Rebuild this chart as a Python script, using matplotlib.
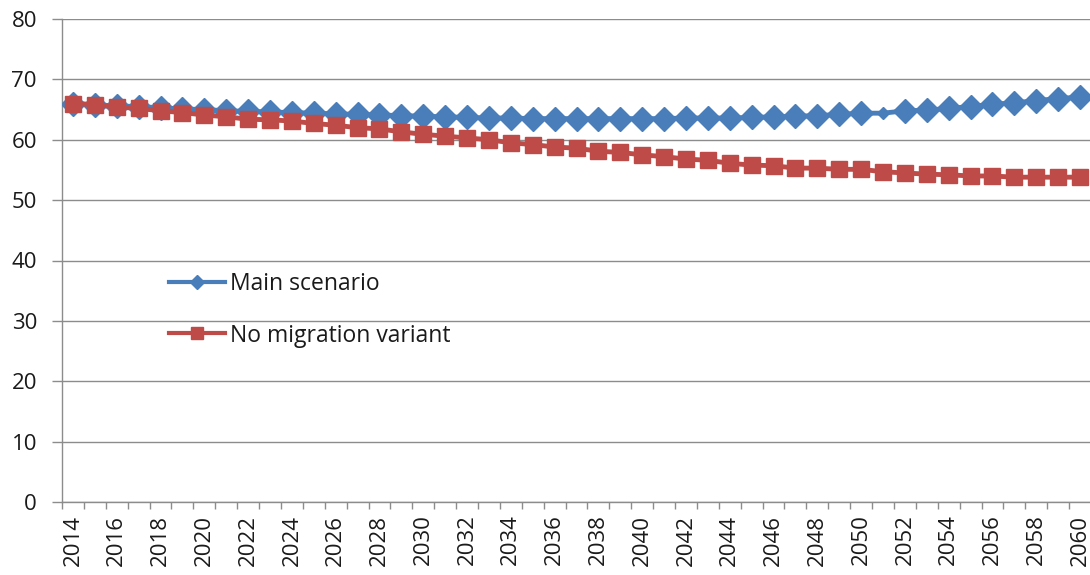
import matplotlib
matplotlib.use("Agg")
import matplotlib.pyplot as plt
from matplotlib.lines import Line2D
import numpy as np

years = list(range(2014, 2061))
main_scenario = [66.0, 65.8, 65.6, 65.5, 65.3, 65.1, 65.0, 64.8, 64.7, 64.6,
                 64.5, 64.4, 64.3, 64.2, 64.1, 64.0, 63.9, 63.8, 63.7, 63.6,
                 63.6, 63.5, 63.5, 63.5, 63.5, 63.5, 63.5, 63.5, 63.6, 63.6,
                 63.6, 63.7, 63.8, 63.9, 64.0, 64.2, 64.4, 64.4, 64.8, 64.9,
                 65.2, 65.5, 65.9, 66.1, 66.5, 66.8, 67.1]
no_migration = [66.0, 65.8, 65.4, 65.2, 64.8, 64.5, 64.1, 63.8, 63.4, 63.3,
                63.1, 62.7, 62.4, 62.0, 61.8, 61.3, 60.9, 60.6, 60.3, 60.0,
                59.5, 59.2, 58.8, 58.6, 58.1, 57.9, 57.5, 57.2, 56.8, 56.6,
                56.1, 55.8, 55.7, 55.3, 55.3, 55.1, 55.1, 54.7, 54.5, 54.3,
                54.2, 54.0, 54.0, 53.8, 53.8, 53.8, 53.8]
series_labels = ["Main scenario", "No migration variant"]
y_ticks = [0, 10, 20, 30, 40, 50, 60, 70, 80]

plt.rcParams['font.family'] = ['Open Sans', 'DejaVu Sans']

BLUE = '#4A7EBB'
RED = '#BE4B48'
FS = 16

fig = plt.figure(figsize=(10.9, 5.75), dpi=100)
ax = fig.add_axes([62/1090, 73/575, 1029/1090, 483/575])

x = np.arange(len(years))
small_idx = years.index(2051)
normal = [i for i in x if i != small_idx]
ax.plot(x, main_scenario, color=BLUE, lw=3.5, marker='D', ms=12,
        markevery=normal, mec=BLUE, mfc=BLUE, zorder=3)
ax.plot([x[small_idx]], [main_scenario[small_idx]], ls='none', marker='D', ms=6.5,
        color=BLUE, zorder=3)
ax.plot(x, no_migration, color=RED, lw=3.5, marker='s', ms=11,
        mec=RED, mfc=RED, zorder=4)

ax.set_xlim(-0.5, len(years) - 0.5)
ax.set_ylim(0, 80)
ax.set_yticks(y_ticks)
ax.set_xticks(x[::2])
ax.set_xticklabels([str(y) for y in years[::2]], rotation=90, fontsize=FS)
ax.set_xticks(np.arange(len(years) + 1) - 0.5, minor=True)
ax.tick_params(axis='x', which='major', length=0, pad=9, labelcolor='#1a1a1a')
ax.tick_params(axis='x', which='minor', length=5, color='#8C8C8C', width=1)
ax.tick_params(axis='y', length=7, color='#8C8C8C', width=1, labelsize=FS, pad=11,
               labelcolor='#1a1a1a')

ax.grid(axis='y', color='#8C8C8C', lw=1)
ax.set_axisbelow(True)
for s in ['top', 'right']:
    ax.spines[s].set_visible(False)
for s in ['left', 'bottom']:
    ax.spines[s].set_color('#8C8C8C')
    ax.spines[s].set_linewidth(1)

h1 = Line2D([], [], color=BLUE, lw=3, marker='D', ms=7.5, mec=BLUE, mfc=BLUE)
h2 = Line2D([], [], color=RED, lw=3, marker='s', ms=9, mec=RED, mfc=RED)
leg = ax.legend(handles=[h1, h2], labels=series_labels, loc='upper left',
                bbox_to_anchor=((169 - 62) / 1029, (502 - 272) / 483),
                frameon=False, fontsize=16.5, handlelength=2.44, handletextpad=0.2,
                labelspacing=1.2, borderaxespad=0, borderpad=0)
for t in leg.get_texts():
    t.set_color('#1a1a1a')

fig.savefig('out.png', dpi=100)
